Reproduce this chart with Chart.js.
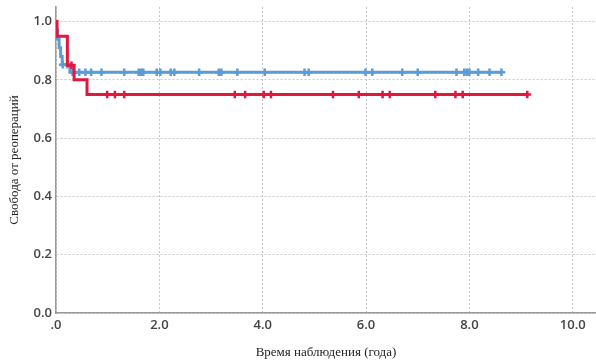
<!DOCTYPE html>
<html>
<head>
<meta charset="utf-8">
<script src="https://cdn.jsdelivr.net/npm/chart.js@4"></script>
<style>
  body { margin: 0; background: #fff; }
  #wrap { width: 596px; height: 362px; }
</style>
</head>
<body>
<div id="wrap"><canvas id="kmChart" width="596" height="362"></canvas></div>
<script>
// Kaplan-Meier steps (time in years, survival)
const blueTimes = [0, 0.01, 0.03, 0.06, 0.09, 0.12, 0.27, 8.62];
const blueSurv = [1.0, 0.97, 0.94, 0.91, 0.88, 0.852, 0.826, 0.826];
const redTimes = [0, 0.02, 0.22, 0.35, 0.6, 9.12];
const redSurv = [1.0, 0.95, 0.85, 0.80, 0.75, 0.75];

// censored observations
const blueCensorHigh = [0.13, 0.22];
const blueCensorLow = [0.32, 0.45, 0.57, 0.68, 0.88, 1.32, 1.60, 1.65, 1.69, 1.95, 2.02, 2.22, 2.29,
  2.77, 3.15, 3.20, 3.51, 4.04, 4.81, 4.89, 5.99, 6.12, 6.70, 7.00, 7.75, 7.90, 7.95, 8.0, 8.17, 8.39, 8.62];
const redCensorMid = [0.3];
const redCensorLow = [0.99, 1.14, 1.32, 3.46, 3.66, 4.02, 4.16, 5.36, 5.86, 6.32, 6.46, 7.34, 7.73, 7.87, 9.12];

const xTicks = [0, 2, 4, 6, 8, 10];
const yTicks = [0, 0.2, 0.4, 0.6, 0.8, 1.0];

const blue = '#5b9bd6';
const red = '#e0173f';

function pts(xs, ys) {
  return xs.map((x, i) => ({ x: x, y: ys[i] }));
}
function marks(xs, level) {
  return xs.map((x) => ({ x: x, y: level }));
}

function markSet(data, color) {
  return {
    data: data,
    showLine: false,
    pointStyle: 'cross',
    pointRadius: 3.8,
    pointBorderWidth: 2.5,
    pointBorderColor: color,
    pointBackgroundColor: color
  };
}

const gridStyle = { color: '#c8c8c8', lineWidth: 1, drawTicks: false };
const axisBorder = { color: '#9a9a9a', width: 1.5, dash: [2, 2] };
const tickFont = { family: 'Open Sans', size: 13, weight: '600' };
const titleFont = { family: 'Liberation Serif', size: 13 };

const ctx = document.getElementById('kmChart').getContext('2d');
new Chart(ctx, {
  type: 'scatter',
  data: {
    datasets: [
      markSet(marks(redCensorMid, 0.85), red),
      markSet(marks(redCensorLow, 0.75), red),
      {
        data: pts(redTimes, redSurv),
        showLine: true,
        stepped: true,
        borderColor: red,
        borderWidth: 3,
        pointRadius: 0
      },
      markSet(marks(blueCensorHigh, 0.852), blue),
      markSet(marks(blueCensorLow, 0.826), blue),
      {
        data: pts(blueTimes, blueSurv),
        showLine: true,
        stepped: true,
        borderColor: blue,
        borderWidth: 3,
        pointRadius: 0
      }
    ]
  },
  options: {
    responsive: false,
    animation: false,
    layout: { autoPadding: false, padding: { top: 7, right: 0, left: 0, bottom: 0 } },
    plugins: { legend: { display: false }, tooltip: { enabled: false } },
    scales: {
      x: {
        type: 'linear',
        min: 0,
        max: 10.45,
        afterBuildTicks: (s) => { s.ticks = xTicks.map((v) => ({ value: v })); },
        afterFit: (s) => { s.height = 49; s.paddingLeft = 0; s.paddingRight = 0; },
        grid: gridStyle,
        border: axisBorder,
        ticks: {
          padding: 4,
          color: '#444',
          font: tickFont,
          callback: (v) => (v === 0 ? '.0' : v.toFixed(1))
        },
        title: {
          display: true,
          text: 'Время наблюдения (года)',
          color: '#222',
          font: titleFont,
          padding: { top: 0, bottom: 2 }
        }
      },
      y: {
        min: 0,
        max: 1.05,
        afterBuildTicks: (s) => { s.ticks = yTicks.map((v) => ({ value: v })); },
        afterFit: (s) => { s.width = 56; s.paddingTop = 0; s.paddingBottom = 0; },
        grid: gridStyle,
        border: axisBorder,
        ticks: {
          padding: 4,
          color: '#444',
          font: tickFont,
          callback: (v) => v.toFixed(1)
        },
        title: {
          display: true,
          text: 'Свобода от реопераций',
          color: '#222',
          font: titleFont,
          padding: { top: 7, bottom: 0 }
        }
      }
    }
  }
});
</script>
</body>
</html>
